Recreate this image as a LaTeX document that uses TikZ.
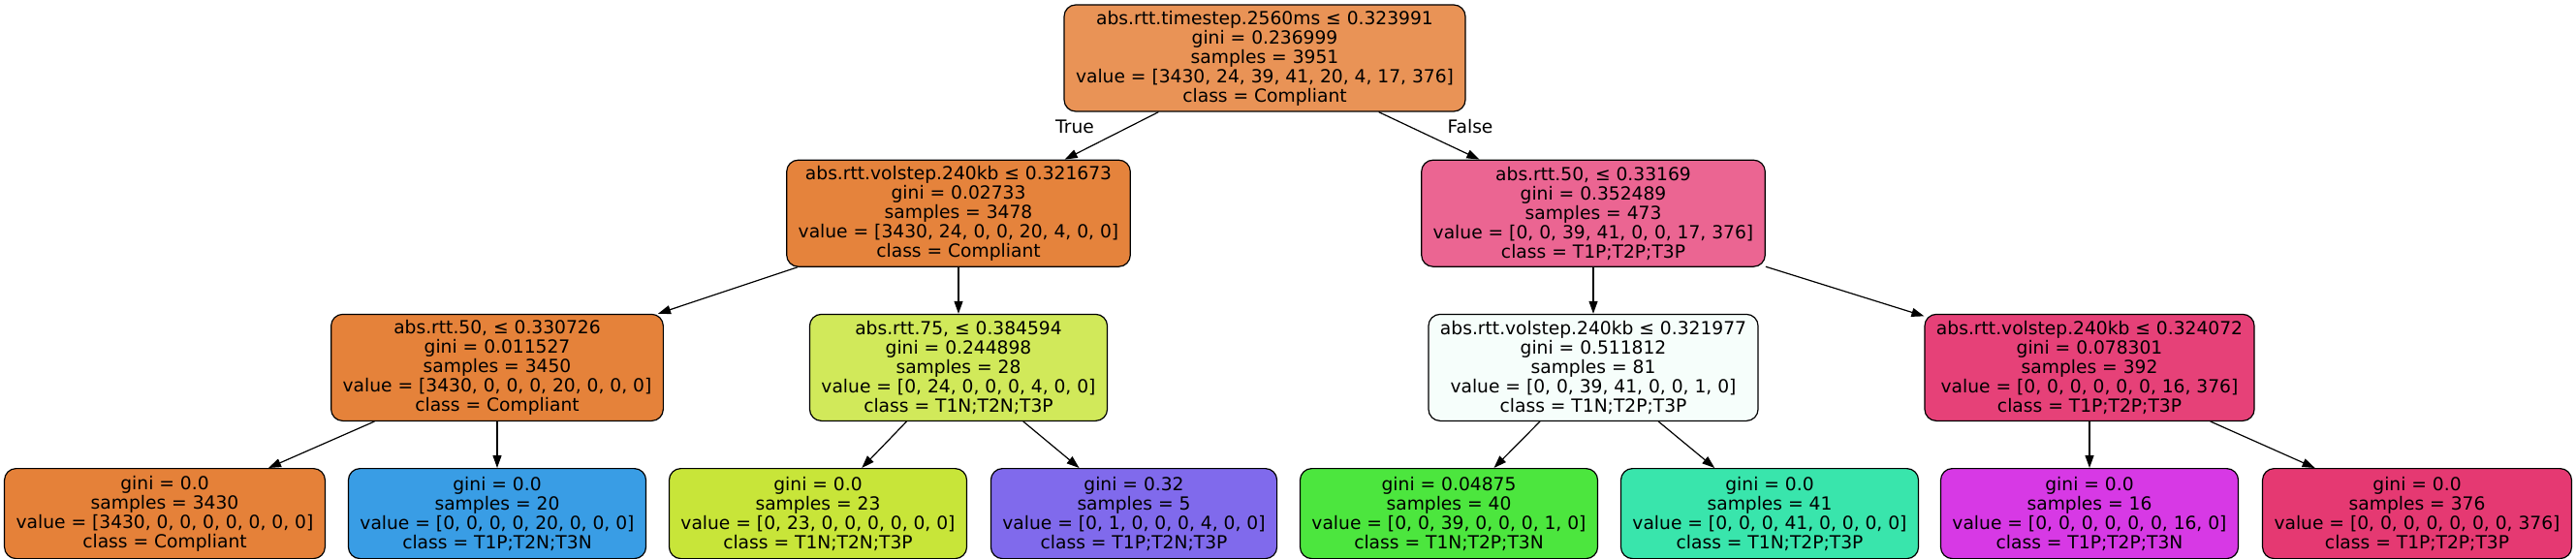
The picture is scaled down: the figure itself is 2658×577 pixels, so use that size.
\documentclass[tikz,border=0pt]{standalone}
\usepackage{fontspec}
\setmainfont{DejaVu Sans}
\usepackage{tikz}
\usetikzlibrary{positioning,arrows.meta}

\definecolor{cA}{HTML}{E99356}
\definecolor{cB}{HTML}{E5833C}
\definecolor{cC}{HTML}{EB6592}
\definecolor{cD}{HTML}{E5823A}
\definecolor{cE}{HTML}{D1E95A}
\definecolor{cF}{HTML}{F6FEFB}
\definecolor{cG}{HTML}{E64178}
\definecolor{cH}{HTML}{E58139}
\definecolor{cI}{HTML}{399DE5}
\definecolor{cJ}{HTML}{C8E539}
\definecolor{cK}{HTML}{806AEC}
\definecolor{cL}{HTML}{4CE63E}
\definecolor{cM}{HTML}{39E5AC}
\definecolor{cN}{HTML}{D739E5}
\definecolor{cO}{HTML}{E53972}

\begin{document}
\begin{tikzpicture}[
                x=1pt, y=1pt,
                every node/.append style={font=\fontsize{18.67}{20}\selectfont},
                box/.style={draw,rounded corners=12pt,line width=1.2pt,align=center,inner xsep=12pt,inner ysep=3pt},
                split/.style={box,minimum height=110pt},
                leaf/.style={box,minimum height=93pt},
                link/.style={line width=1.2pt,-{Triangle[length=13pt,width=9pt]}}
            ]
                \useasboundingbox (0,0) rectangle (2658,-577);
                \node (A) [split,fill=cA] at (1305,-60) {abs.rtt.timestep.2560ms ≤ 0.323991\\gini = 0.236999\\samples = 3951\\value = [3430, 24, 39, 41, 20, 4, 17, 376]\\class = Compliant};
                \node (B) [split,fill=cB,below=49pt of A,xshift=-316pt] {abs.rtt.volstep.240kb ≤ 0.321673\\gini = 0.02733\\samples = 3478\\value = [3430, 24, 0, 0, 20, 4, 0, 0]\\class = Compliant};
                \node (C) [split,fill=cC,below=49pt of A,xshift=339pt] {abs.rtt.50, ≤ 0.33169\\gini = 0.352489\\samples = 473\\value = [0, 0, 39, 41, 0, 0, 17, 376]\\class = T1P;T2P;T3P};
                \node (D) [split,fill=cD,below=48pt of B,xshift=-476pt] {abs.rtt.50, ≤ 0.330726\\gini = 0.011527\\samples = 3450\\value = [3430, 0, 0, 0, 20, 0, 0, 0]\\class = Compliant};
                \node (E) [split,fill=cE,below=48pt of B] {abs.rtt.75, ≤ 0.384594\\gini = 0.244898\\samples = 28\\value = [0, 24, 0, 0, 0, 4, 0, 0]\\class = T1N;T2N;T3P};
                \node (F) [split,fill=cF,below=48pt of C] {abs.rtt.volstep.240kb ≤ 0.321977\\gini = 0.511812\\samples = 81\\value = [0, 0, 39, 41, 0, 0, 1, 0]\\class = T1N;T2P;T3P};
                \node (G) [split,fill=cG,below=48pt of C,xshift=512pt] {abs.rtt.volstep.240kb ≤ 0.324072\\gini = 0.078301\\samples = 392\\value = [0, 0, 0, 0, 0, 0, 16, 376]\\class = T1P;T2P;T3P};
                \node (H) [leaf,fill=cH,below=48pt of D,xshift=-343pt] {gini = 0.0\\samples = 3430\\value = [3430, 0, 0, 0, 0, 0, 0, 0]\\class = Compliant};
                \node (I) [leaf,fill=cI,below=48pt of D] {gini = 0.0\\samples = 20\\value = [0, 0, 0, 0, 20, 0, 0, 0]\\class = T1P;T2N;T3N};
                \node (J) [leaf,fill=cJ,below=48pt of E,xshift=-145pt] {gini = 0.0\\samples = 23\\value = [0, 23, 0, 0, 0, 0, 0, 0]\\class = T1N;T2N;T3P};
                \node (K) [leaf,fill=cK,below=48pt of E,xshift=181pt] {gini = 0.32\\samples = 5\\value = [0, 1, 0, 0, 0, 4, 0, 0]\\class = T1P;T2N;T3P};
                \node (L) [leaf,fill=cL,below=48pt of F,xshift=-149pt] {gini = 0.04875\\samples = 40\\value = [0, 0, 39, 0, 0, 0, 1, 0]\\class = T1N;T2P;T3N};
                \node (M) [leaf,fill=cM,below=48pt of F,xshift=182pt] {gini = 0.0\\samples = 41\\value = [0, 0, 0, 41, 0, 0, 0, 0]\\class = T1N;T2P;T3P};
                \node (N) [leaf,fill=cN,below=48pt of G] {gini = 0.0\\samples = 16\\value = [0, 0, 0, 0, 0, 0, 16, 0]\\class = T1P;T2P;T3N};
                \node (O) [leaf,fill=cO,below=48pt of G,xshift=338pt] {gini = 0.0\\samples = 376\\value = [0, 0, 0, 0, 0, 0, 0, 376]\\class = T1P;T2P;T3P};
                \node (T) at ([xshift=-196pt,yshift=-15pt]A.south) {True};
                \node (U) at ([xshift=212pt,yshift=-15pt]A.south) {False};
                \draw[link] (A) -- (B);
                \draw[link] (A) -- (C);
                \draw[link] (B) -- (D);
                \draw[link] (B) -- (E);
                \draw[link] (C) -- (F);
                \draw[link] (C) -- (G);
                \draw[link] (D) -- (H);
                \draw[link] (D) -- (I);
                \draw[link] (E) -- (J);
                \draw[link] (E) -- (K);
                \draw[link] (F) -- (L);
                \draw[link] (F) -- (M);
                \draw[link] (G) -- (N);
                \draw[link] (G) -- (O);
            \end{tikzpicture}
\end{document}
